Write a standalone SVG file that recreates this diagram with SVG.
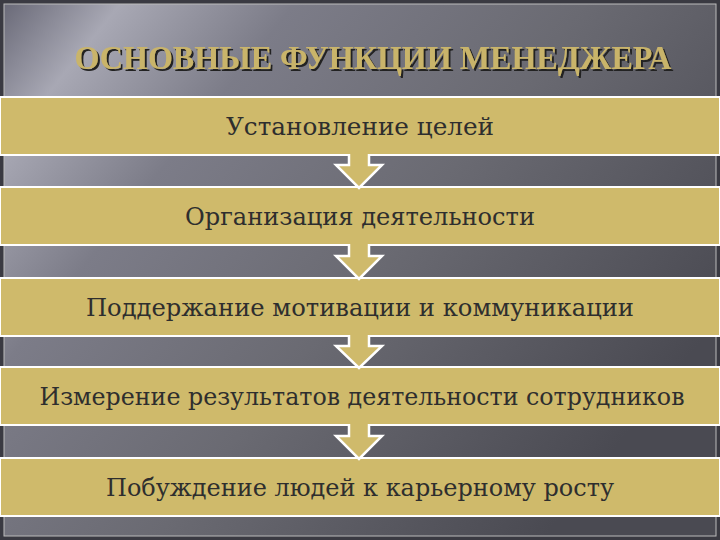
<svg xmlns="http://www.w3.org/2000/svg" width="720" height="540" viewBox="0 0 720 540">
<defs>
<linearGradient id="bg" x1="0" y1="0" x2="1" y2="0.6">
<stop offset="0" stop-color="#6a6a78"/>
<stop offset="0.12" stop-color="#a8a8b4"/>
<stop offset="0.3" stop-color="#7c7c88"/>
<stop offset="0.6" stop-color="#6a6a72"/>
<stop offset="1" stop-color="#4a4a52"/>
</linearGradient>
<filter id="sh" x="-5%" y="-20%" width="110%" height="150%">
<feDropShadow dx="2" dy="2" stdDeviation="0.6" flood-color="#222"/>
</filter>
<style>
.box{fill:#cfba6b;stroke:#fff;stroke-width:2}
.arr{fill:#cfba6b;stroke:#fff;stroke-width:2.5;stroke-linejoin:miter}
.t{font-family:"DejaVu Serif","Liberation Serif",serif;font-size:24px;fill:#2e2e2e;text-anchor:middle}
.title{font-family:"Liberation Serif",serif;font-size:33px;font-weight:bold;fill:#c9b46a;text-anchor:middle}
</style>
</defs>
<rect width="720" height="540" fill="#3a3a42"/>
<rect x="4" y="4" width="712" height="532" fill="url(#bg)" stroke="#bbb" stroke-width="1"/>
<g id="title">
<text class="title" x="373" y="69" textLength="597" lengthAdjust="spacingAndGlyphs" filter="url(#sh)">ОСНОВНЫЕ ФУНКЦИИ МЕНЕДЖЕРА</text>
</g>
<g id="n1"><rect class="box" x="0" y="97" width="720" height="58"/><text class="t" x="360" y="135" textLength="268" lengthAdjust="spacingAndGlyphs">Установление целей</text></g>
<g id="n2"><rect class="box" x="0" y="187" width="720" height="58"/><text class="t" x="360" y="225" textLength="350" lengthAdjust="spacingAndGlyphs">Организация деятельности</text></g>
<g id="n3"><rect class="box" x="0" y="278" width="720" height="58"/><text class="t" x="360" y="316" textLength="548" lengthAdjust="spacingAndGlyphs">Поддержание мотивации и коммуникации</text></g>
<g id="n4"><rect class="box" x="0" y="367" width="720" height="58"/><text class="t" x="362" y="405" textLength="645" lengthAdjust="spacingAndGlyphs">Измерение результатов деятельности сотрудников</text></g>
<g id="n5"><rect class="box" x="0" y="458" width="720" height="58"/><text class="t" x="360" y="496" textLength="508" lengthAdjust="spacingAndGlyphs">Побуждение людей к карьерному росту</text></g>
<g id="connectors">
<path class="arr" d="M349,154 V165 H336 L359,188 L382,165 H369 V154"/>
<path class="arr" d="M349,244 V256 H336 L359,279 L382,256 H369 V244"/>
<path class="arr" d="M349,335 V346 H336 L359,368 L382,346 H369 V335"/>
<path class="arr" d="M349,424 V436 H336 L359,459 L382,436 H369 V424"/>
</g>
</svg>
